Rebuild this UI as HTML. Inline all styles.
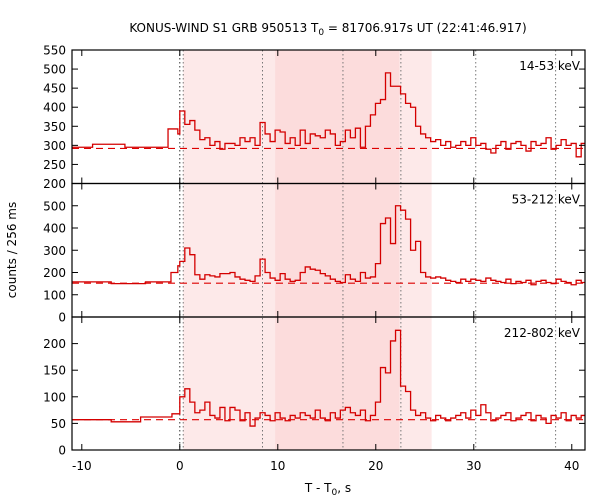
<!DOCTYPE html>
<html><head><meta charset="utf-8"><style>
body{margin:0;background:#fff;}
svg{display:block;font-family:"DejaVu Sans","Liberation Sans",sans-serif;}
</style></head><body>
<svg id="chart" width="600" height="500" viewBox="0 0 600 500">
<text x="328" y="32" font-size="12" text-anchor="middle">KONUS-WIND S1 GRB 950513 T<tspan font-size="9" dy="3">0</tspan><tspan dy="-3"> = 81706.917s UT (22:41:46.917)</tspan></text>
<text transform="translate(16,250) rotate(-90)" font-size="12" text-anchor="middle">counts / 256 ms</text>
<text x="328" y="492" font-size="12" text-anchor="middle">T - T<tspan font-size="9" dy="3">0</tspan><tspan dy="-3">, s</tspan></text>
<g id="g"></g>
</svg>
<script>
const binStart = 0, binWidth = 0.512;
const preTop = [[-11,-8.9,295],[-8.9,-5.6,303],[-5.6,-1.2,295],[-1.2,-0.2,343],[-0.2,0,330]];
const topCounts = [390,355,365,340,315,320,300,310,290,305,
305,300,320,310,320,300,360,330,310,340,
335,305,320,300,340,305,330,325,320,340,
330,300,310,340,320,345,295,350,380,410,
420,490,455,455,435,410,400,350,330,320,
310,315,300,310,295,300,310,300,320,300,
305,290,280,300,310,290,305,310,300,285,
310,300,305,320,290,300,315,300,305,270,305];
const preMid = [[-11,-7,158],[-7,-3.5,150],[-3.5,-0.9,158],[-0.9,-0.2,200],[-0.2,0,230]];
const midCounts = [250,310,280,190,170,190,185,180,195,195,
200,180,170,165,160,185,260,200,175,165,
195,170,160,165,200,225,215,210,195,185,
170,160,155,190,170,160,200,175,180,240,
420,445,330,500,480,440,300,340,200,180,
175,180,175,165,160,155,170,160,170,165,
160,175,165,160,155,170,150,160,155,165,
145,160,165,155,150,170,160,155,145,165,155];
const preBot = [[-11,-7,57],[-7,-4,53],[-4,-0.8,62],[-0.8,0,68]];
const botCounts = [100,115,90,70,75,90,65,60,80,55,
80,75,55,70,45,60,70,65,55,70,
60,55,65,60,70,65,60,75,60,55,
70,60,75,80,70,65,75,55,65,90,
155,145,205,225,120,110,75,65,70,
60,55,65,60,55,60,65,70,60,75,
65,85,70,55,60,65,70,55,60,65,
70,55,65,60,50,65,60,70,55,65,60,65];
const backgrounds = [292,152,57];
const topTicks = [200,250,300,350,400,450,500,550];
const midTicks = [0,100,200,300,400,500];
const botTicks = [0,50,100,150,200];
const xTicks = [-10,0,10,20,30,40];
const bands = [[0.35,25.7,'#fde9e9'],[9.73,22.4,'#fcdcdc']];
const vLines = [0.35,8.44,16.65,22.56,30.2,38.35];
const labels = ['14-53 keV','53-212 keV','212-802 keV'];

const X0=72,X1=585,T0=-11.0,T1=41.35;
const xs=t=>X0+(t-T0)/(T1-T0)*(X1-X0);
const panels=[
 {y0:50,y1:183.5,min:200,max:550,pre:preTop,data:topCounts,ticks:topTicks},
 {y0:183.5,y1:317,min:0,max:600,pre:preMid,data:midCounts,ticks:midTicks},
 {y0:317,y1:450,min:0,max:250,pre:preBot,data:botCounts,ticks:botTicks}];
const NS='http://www.w3.org/2000/svg';
const g=document.getElementById('g');
function mk(tag,attrs,parent){const e=document.createElementNS(NS,tag);for(const k in attrs)e.setAttribute(k,attrs[k]);(parent||g).appendChild(e);return e;}
const defs=mk('defs',{});
const cp=mk('clipPath',{id:'clip'},defs);
mk('rect',{x:X0,y:50,width:X1-X0,height:400},cp);
// bands
bands.forEach(b=>{const r=mk('rect',{x:xs(b[0]),y:50,width:xs(b[1])-xs(b[0]),height:400,fill:b[2]});

});
// vertical lines
const v0=mk('line',{x1:xs(0),x2:xs(0),y1:50,y2:450,stroke:'#333','stroke-dasharray':'1.5,2.5','stroke-width':1});


vLines.forEach(t=>{const l=mk('line',{x1:xs(t),x2:xs(t),y1:50,y2:450,stroke:'#777','stroke-dasharray':'1.5,2.5','stroke-width':1});

});
panels.forEach((p,pi)=>{
 const ys=v=>p.y1-(v-p.min)/(p.max-p.min)*(p.y1-p.y0);
 // background
 const bl=mk('line',{x1:X0,x2:X1,y1:ys(backgrounds[pi]),y2:ys(backgrounds[pi]),stroke:'#d00','stroke-dasharray':'7,5','stroke-width':1.1,'clip-path':'url(#clip)'});
 
 
 // step path
 let d='';let first=true;
 p.pre.forEach(s=>{d+=(first?'M':'L')+xs(s[0])+','+ys(s[2])+'L'+xs(s[1])+','+ys(s[2]);first=false;});
 p.data.forEach((v,i)=>{const a=binStart+i*binWidth,b=a+binWidth;d+='L'+xs(a)+','+ys(v)+'L'+xs(b)+','+ys(v);});
 const path=mk('path',{d:d,fill:'none',stroke:'#d40000','stroke-width':1.3,'clip-path':'url(#clip)'});
 
 
 // frame
 const fr=mk('rect',{x:X0,y:p.y0,width:X1-X0,height:p.y1-p.y0,fill:'none',stroke:'#000','stroke-width':1.2});
 
 
 p.ticks.forEach(v=>{const y=ys(v);
  mk('line',{x1:X0,x2:X0+6,y1:y,y2:y,stroke:'#000'});
  mk('line',{x1:X1-6,x2:X1,y1:y,y2:y,stroke:'#000'});
  const t=mk('text',{x:X0-6,y:y+4.5,'font-size':12,'text-anchor':'end'});t.textContent=v;
  
  });
 xTicks.forEach(v=>{const x=xs(v);
  mk('line',{x1:x,x2:x,y1:p.y0,y2:p.y0+6,stroke:'#000'});
  mk('line',{x1:x,x2:x,y1:p.y1-6,y2:p.y1,stroke:'#000'});});
 const lb=mk('text',{x:580,y:p.y0+20,'font-size':12,'text-anchor':'end'});lb.textContent=labels[pi];
 
 
});
xTicks.forEach(v=>{const t=mk('text',{x:xs(v),y:470,'font-size':12,'text-anchor':'middle'});t.textContent=v;
 
 });
</script>
</body></html>
